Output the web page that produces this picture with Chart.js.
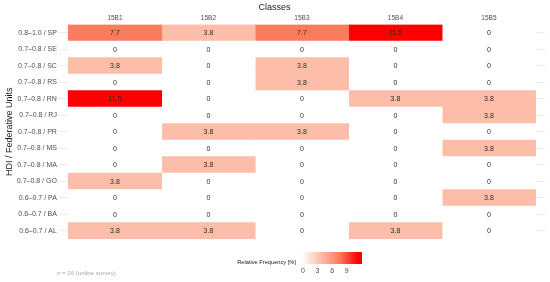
<!DOCTYPE html>
<html>
<head>
<meta charset="utf-8">
<script src="https://cdn.jsdelivr.net/npm/chart.js@4"></script>
<style>
  body { margin: 0; background: #fff; }
  #wrap { width: 550px; height: 282px; position: relative; }
</style>
</head>
<body>
<div id="wrap"><canvas id="heatChart"></canvas></div>
<script>
// Data
const classes = ['15B1', '15B2', '15B3', '15B4', '15B5'];
const units = [
    '0.8–1.0 / SP', '0.7–0.8 / SE', '0.7–0.8 / SC', '0.7–0.8 / RS', '0.7–0.8 / RN',
    '0.7–0.8 / RJ', '0.7–0.8 / PR', '0.7–0.8 / MS', '0.7–0.8 / MA', '0.7–0.8 / GO',
    '0.6–0.7 / PA', '0.6–0.7 / BA', '0.6–0.7 / AL'
];
// relative frequency [%] per class, rows in the order of units
const freq15B1 = [7.7, 0, 3.8, 0, 11.5, 0, 0, 0, 0, 3.8, 0, 0, 3.8];
const freq15B2 = [3.8, 0, 0, 0, 0, 0, 3.8, 0, 3.8, 0, 0, 0, 3.8];
const freq15B3 = [7.7, 0, 3.8, 3.8, 0, 0, 3.8, 0, 0, 0, 0, 0, 0];
const freq15B4 = [11.5, 0, 0, 0, 3.8, 0, 0, 0, 0, 0, 0, 0, 3.8];
const freq15B5 = [0, 0, 0, 0, 3.8, 3.8, 0, 3.8, 0, 0, 3.8, 0, 0];
const legendTicks = [0, 3, 6, 9];
const legendMax = 11.5;
const caption = 'n = 26 (online survey)';

const columns = [freq15B1, freq15B2, freq15B3, freq15B4, freq15B5];

// white -> red fill scale
const colorStops = [
    [0, [255, 255, 255]],
    [3.8, [252, 190, 168]],
    [7.7, [249, 124, 94]],
    [11.5, [255, 0, 0]]
];
function fillFor(v) {
    for (let i = 1; i < colorStops.length; i++) {
        const [v1, c1] = colorStops[i];
        const [v0, c0] = colorStops[i - 1];
        if (v <= v1) {
            const t = (v - v0) / (v1 - v0);
            const c = c0.map((a, k) => Math.round(a + (c1[k] - a) * t));
            return `rgb(${c[0]},${c[1]},${c[2]})`;
        }
    }
    return 'rgb(255,0,0)';
}

const fontFamily = "'Liberation Sans', Arial, sans-serif";
const axisGrey = '#4d4d4d';

const datasets = columns.map((vals, j) => ({
    label: classes[j],
    data: vals.map((v, i) => ({ x: [j, j + 1], y: units[i], v: v })),
    backgroundColor: vals.map(fillFor),
    borderWidth: 0,
    barPercentage: 1,
    categoryPercentage: 1,
    grouped: false
}));

// value labels in the cells
const cellLabels = {
    id: 'cellLabels',
    afterDatasetsDraw(chart) {
        const ctx = chart.ctx;
        ctx.save();
        ctx.font = '7px ' + fontFamily;
        ctx.fillStyle = '#2a2a2a';
        ctx.textAlign = 'center';
        ctx.textBaseline = 'middle';
        chart.data.datasets.forEach((ds, di) => {
            chart.getDatasetMeta(di).data.forEach((el, i) => {
                const cx = (el.x + el.base) / 2;
                ctx.fillText(String(ds.data[i].v), cx, el.y + 0.5);
            });
        });
        ctx.restore();
    }
};

// colour bar legend + caption at the bottom
const colorBar = {
    id: 'colorBar',
    afterDraw(chart) {
        const ctx = chart.ctx;
        const x0 = 302, y0 = 252, w = 60, h = 12;
        const pxPerUnit = 4.85;
        ctx.save();
        const grad = ctx.createLinearGradient(x0, 0, x0 + pxPerUnit * legendMax, 0);
        colorStops.forEach(([v, c]) => grad.addColorStop(v / legendMax, `rgb(${c[0]},${c[1]},${c[2]})`));
        ctx.fillStyle = grad;
        ctx.fillRect(x0, y0, w, h);

        ctx.font = '5.7px ' + fontFamily;
        ctx.fillStyle = '#1a1a1a';
        ctx.textAlign = 'right';
        ctx.textBaseline = 'middle';
        ctx.fillText('Relative Frequency [%]', 296, 262.5);

        ctx.font = '7px ' + fontFamily;
        ctx.fillStyle = axisGrey;
        ctx.textAlign = 'center';
        legendTicks.forEach(t => ctx.fillText(String(t), x0 + 1 + t * pxPerUnit, 271));

        ctx.font = '6.1px ' + fontFamily;
        ctx.fillStyle = '#aaaaaa';
        ctx.textAlign = 'left';
        ctx.fillText(caption, 57, 273.5);
        ctx.restore();
    }
};

new Chart(document.getElementById('heatChart'), {
    type: 'bar',
    data: { labels: units, datasets: datasets },
    plugins: [cellLabels, colorBar],
    options: {
        indexAxis: 'y',
        responsive: true,
        maintainAspectRatio: false,
        animation: false,
        layout: { padding: { left: 4, right: 5, top: 0, bottom: 43 } },
        plugins: {
            legend: { display: false },
            tooltip: { enabled: false },
            title: {
                display: true,
                text: 'Classes',
                color: '#1a1a1a',
                font: { family: fontFamily, size: 9, weight: 'normal' },
                padding: { top: 2, bottom: 0 }
            }
        },
        scales: {
            x: {
                type: 'linear',
                position: 'top',
                min: -0.1,
                max: 5.1,
                afterBuildTicks: axis => {
                    axis.ticks = classes.map((c, i) => ({ value: i + 0.5 }));
                },
                ticks: {
                    color: axisGrey,
                    font: { family: fontFamily, size: 6.5 },
                    padding: 2,
                    maxRotation: 0,
                    callback: (v, i) => classes[i]
                },
                grid: { display: false, drawTicks: false },
                border: { display: false }
            },
            y: {
                type: 'category',
                grid: { color: '#ebebeb', offset: false, drawTicks: false, lineWidth: 1 },
                border: { display: false },
                ticks: {
                    color: axisGrey,
                    font: { family: fontFamily, size: 7 },
                    padding: 2,
                    autoSkip: false
                },
                title: {
                    display: true,
                    text: 'HDI / Federative Units',
                    color: '#1a1a1a',
                    font: { family: fontFamily, size: 9 },
                    padding: { top: 0, bottom: 0 }
                }
            }
        }
    }
});
</script>
</body>
</html>
